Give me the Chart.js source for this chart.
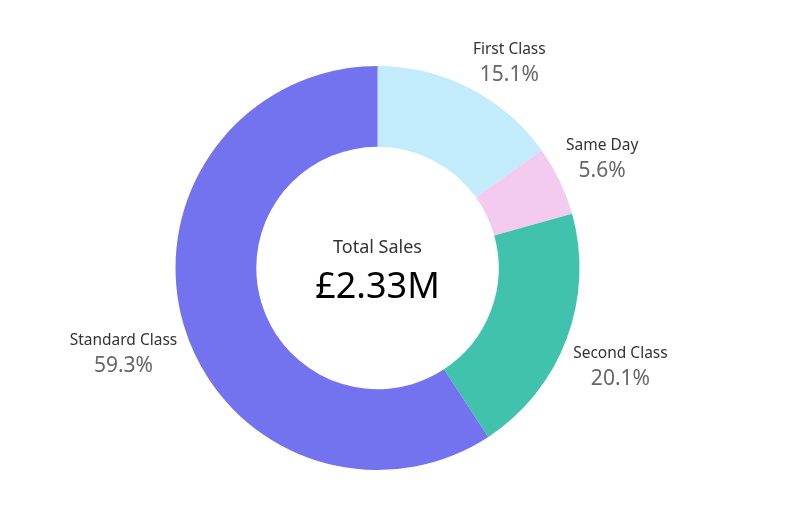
<!DOCTYPE html>
<html>
<head>
<meta charset="utf-8">
<script src="https://cdn.jsdelivr.net/npm/chart.js@4/dist/chart.umd.min.js"></script>
<style>
  html, body { margin: 0; padding: 0; background: #fff; }
  #wrap { width: 801px; height: 516px; }
</style>
</head>
<body>
<div id="wrap"><canvas id="shipChart"></canvas></div>
<script>
const shipModes = ['First Class', 'Same Day', 'Second Class', 'Standard Class'];
const shares = [15.1, 5.6, 20.1, 59.3];
const sliceColors = ['#c2ecfb', '#f3cbf0', '#41c2ad', '#7373f0'];
const centerTitle = 'Total Sales';
const centerValue = '£2.33M';

const FONT = "'Noto Sans', 'DejaVu Sans', sans-serif";

// labels outside each slice, nearest corner of the text block touching the mid angle
const outsideLabels = {
    id: 'outsideLabels',
    afterDatasetsDraw(chart) {
        const ctx = chart.ctx;
        const meta = chart.getDatasetMeta(0);
        meta.data.forEach((arc, i) => {
            const p = arc.getProps(['x', 'y', 'startAngle', 'endAngle', 'outerRadius'], true);
            const mid = (p.startAngle + p.endAngle) / 2;
            const r = p.outerRadius + 7;
            const ax = p.x + Math.cos(mid) * r;
            const ay = p.y + Math.sin(mid) * r;

            const name = shipModes[i];
            const pct = shares[i].toFixed(1) + '%';
            ctx.save();
            ctx.font = '15.5px ' + FONT;
            const w1 = ctx.measureText(name).width;
            ctx.font = '21px ' + FONT;
            const w2 = ctx.measureText(pct).width;
            const w = Math.max(w1, w2);
            const h = 45;

            const left = ax >= p.x ? ax : ax - w;
            const top = (ay <= p.y ? ay - h : ay) + 2;
            const cx = left + w / 2;

            ctx.textAlign = 'center';
            ctx.textBaseline = 'alphabetic';
            ctx.fillStyle = '#333333';
            ctx.font = '15.5px ' + FONT;
            ctx.fillText(name, cx, top + 15);
            ctx.fillStyle = '#666666';
            ctx.font = '21px ' + FONT;
            ctx.fillText(pct, cx, top + 42);
            ctx.restore();
        });
    }
};

const centerText = {
    id: 'centerText',
    afterDatasetsDraw(chart) {
        const ctx = chart.ctx;
        const arc = chart.getDatasetMeta(0).data[0];
        const x = arc.x, y = arc.y;
        ctx.save();
        ctx.textAlign = 'center';
        ctx.textBaseline = 'alphabetic';
        ctx.fillStyle = '#333333';
        ctx.font = '18px ' + FONT;
        ctx.fillText(centerTitle, x, y - 15);
        ctx.fillStyle = '#000000';
        ctx.font = '36px ' + FONT;
        ctx.fillText(centerValue, x, y + 30);
        ctx.restore();
    }
};

new Chart(document.getElementById('shipChart').getContext('2d'), {
    type: 'doughnut',
    data: {
        labels: shipModes,
        datasets: [{
            data: shares,
            backgroundColor: sliceColors,
            borderWidth: 0
        }]
    },
    options: {
        responsive: true,
        maintainAspectRatio: false,
        animation: false,
        cutout: '60%',
        layout: {
            padding: { left: 0, right: 46, top: 66, bottom: 46 }
        },
        plugins: {
            legend: { display: false },
            tooltip: { enabled: false }
        }
    },
    plugins: [outsideLabels, centerText]
});
</script>
</body>
</html>
